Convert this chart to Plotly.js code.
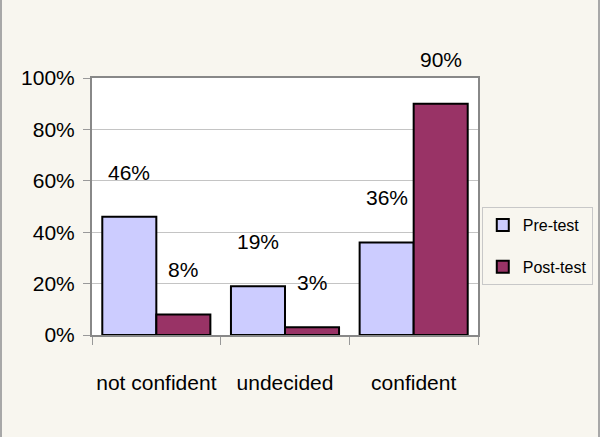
<!DOCTYPE html>
<html>
<head>
<meta charset="utf-8">
<script src="https://cdn.plot.ly/plotly-3.0.1.min.js"></script>
<style>
  html, body { margin: 0; padding: 0; background: #f8f6ef; }
  #chart { width: 596px; height: 437px; border-left: 2px solid #a8a8a8; border-right: 2px solid #a8a8a8; }
</style>
</head>
<body>
<div id="chart"></div>
<script>
const categories = ['not confident', 'undecided', 'confident'];
const preTest = [0.46, 0.19, 0.36];
const postTest = [0.08, 0.03, 0.90];
const seriesNames = ['Pre-test', 'Post-test'];

const font = 'Liberation Sans, Arial, sans-serif';
const colors = ['#ccccff', '#993366'];

const traces = [preTest, postTest].map((vals, i) => ({
  x: categories,
  y: vals,
  type: 'bar',
  name: seriesNames[i],
  legendgroup: 'g' + i,
  marker: { color: colors[i], line: { color: '#000', width: 2 } },
  hoverinfo: 'skip',
}));

// value labels sit well above the bars, as in the original
const labels = [];
[preTest, postTest].forEach((vals, i) => {
  vals.forEach((v, j) => {
    labels.push({
      x: categories[j], y: v, xref: 'x', yref: 'y',
      text: Math.round(v * 100) + '%',
      showarrow: false, yanchor: 'bottom',
      xshift: i === 0 ? -27 : 27, yshift: 31,
      font: { family: font, size: 21, color: '#000' },
    });
  });
});

const layout = {
  width: 596,
  height: 437,
  margin: { l: 90, r: 120, t: 78, b: 102 },
  paper_bgcolor: '#f8f6ef',
  plot_bgcolor: '#ffffff',
  font: { family: font, size: 21, color: '#000' },
  barmode: 'group',
  bargap: 0.16,
  bargroupgap: 0,
  xaxis: {
    type: 'category',
    tickson: 'boundaries',
    tickangle: 0,
    ticks: 'outside',
    ticklen: 8,
    tickcolor: '#999',
    ticklabelstandoff: 28,
    showline: true,
    linecolor: '#888',
    linewidth: 2,
    mirror: true,
    tickfont: { family: font, size: 21 },
  },
  yaxis: {
    range: [0, 1],
    dtick: 0.2,
    tickformat: '.0%',
    ticks: 'outside',
    ticklen: 7,
    tickcolor: '#999',
    ticklabelstandoff: 4,
    showgrid: true,
    gridcolor: '#c4c4c4',
    gridwidth: 1,
    showline: true,
    linecolor: '#888',
    linewidth: 2,
    mirror: true,
    zeroline: false,
    tickfont: { family: font, size: 21 },
  },
  showlegend: true,
  legend: {
    xref: 'container', yref: 'container',
    x: 0.805, xanchor: 'left',
    y: 0.526, yanchor: 'top',
    bgcolor: '#f8f6ef',
    bordercolor: '#c8c8c8',
    borderwidth: 1,
    traceorder: 'grouped',
    tracegroupgap: 18,
    itemwidth: 30,
    font: { family: font, size: 16, color: '#000' },
  },
  annotations: labels,
};

Plotly.newPlot('chart', traces, layout, { displayModeBar: false, staticPlot: true });
</script>
</body>
</html>
